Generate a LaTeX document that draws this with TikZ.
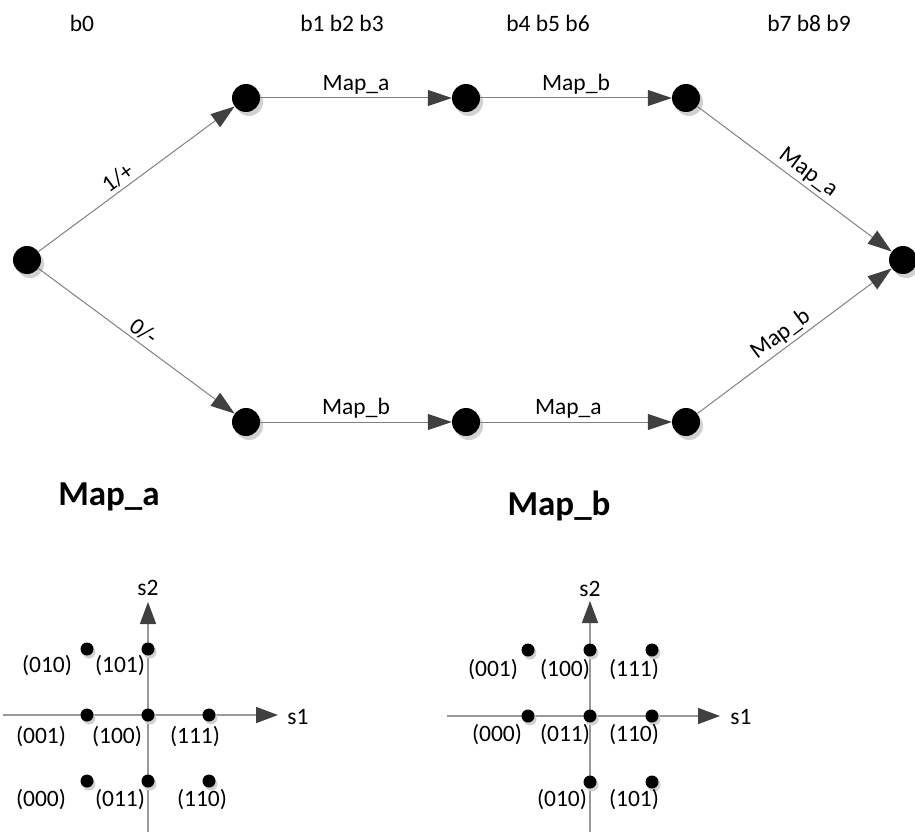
\documentclass[tikz,border=0pt]{standalone}
\usepackage{fontspec}
\setmainfont{Carlito}
\usepackage{tikz}
\usetikzlibrary{arrows.meta}
\usetikzlibrary{positioning}
\usetikzlibrary{shadows}

\begin{document}
\begin{tikzpicture}[x=1pt, y=-1pt,
    font=\fontsize{23.5}{28}\selectfont,
    state/.style={circle, fill=black, minimum size=28pt, inner sep=0pt,
        drop shadow={shadow xshift=3pt, shadow yshift=-4pt, fill=black!18, opacity=1}},
    dot/.style={circle, fill=black, minimum size=13pt, inner sep=0pt,
        drop shadow={shadow xshift=2pt, shadow yshift=-3pt, fill=black!18, opacity=1}},
    trans/.style={draw=black!50, line width=1pt,
        -{Triangle[length=24pt, width=16pt, color=black!75]}},
    axis/.style={draw=black!40, line width=1.6pt,
        -{Triangle[length=22pt, width=16pt, color=black!75]}},
    lbl/.style={inner sep=3pt},
    title/.style={font=\fontsize{35}{40}\selectfont\bfseries}]
\useasboundingbox (0,0) rectangle (915,832);

% stage labels
\node (b0)   at (  82, 23 ) {b0};
\node (b123) at ( 342, 23 ) {b1 b2 b3};
\node (b456) at ( 548, 23 ) {b4 b5 b6};
\node (b789) at ( 809, 23 ) {b7 b8 b9};

% trellis
\node[state] (E)  at ( 903, 260 ) {};
\node[state] (U3) at ( 686,  98 ) {}
    edge [trans] node[lbl, above, sloped, pos=0.53] {Map\_a} (E);
\node[state] (L3) at ( 686, 422 ) {}
    edge [trans] node[lbl, above, sloped, pos=0.47] {Map\_b} (E);
\node[state] (U2) at ( 466,  98 ) {}
    edge [trans] node[lbl, above, pos=0.5] {Map\_b} (U3);
\node[state] (L2) at ( 466, 422 ) {}
    edge [trans] node[lbl, above, pos=0.46] {Map\_a} (L3);
\node[state] (U1) at ( 246,  98 ) {}
    edge [trans] node[lbl, above, pos=0.5] {Map\_a} (U2);
\node[state] (L1) at ( 246, 422 ) {}
    edge [trans] node[lbl, above, pos=0.5] {Map\_b} (L2);
\node[state] (S)  at (  27, 260 ) {}
    edge [trans] node[lbl, above, sloped, pos=0.44] {1/+} (U1)
    edge [trans] node[lbl, above, sloped, pos=0.5] {0/-} (L1);

% mapping titles
\node[title] (ta) at ( 109, 497 ) {Map\_a};
\node[title] (tb) at ( 559, 506 ) {Map\_b};

% Map_a constellation
\coordinate (ax0) at (   3, 715 );
\coordinate (ay0) at ( 148, 832 );
\node (as1) at ( 298, 717 ) {s1};
\node (as2) at ( 148, 588 ) {s2};
\draw[axis] (ax0) -- (278,715);
\draw[axis] (ay0) -- (148,602);

\node[dot] (a010) at (  87, 649 ) {};
\node[dot] (a101) at ( 148, 649 ) {};
\node[dot] (a001) at (  87, 715 ) {};
\node[dot] (a100) at ( 148, 715 ) {};
\node[dot] (a111) at ( 209, 715 ) {};
\node[dot] (a000) at (  87, 781 ) {};
\node[dot] (a011) at ( 148, 781 ) {};
\node[dot] (a110) at ( 209, 781 ) {};

\node at (  47, 666 ) {(010)};
\node at ( 120, 666 ) {(101)};
\node at (  41, 737 ) {(001)};
\node at ( 117, 737 ) {(100)};
\node at ( 195, 737 ) {(111)};
\node at (  41, 800 ) {(000)};
\node at ( 120, 800 ) {(011)};
\node at ( 202, 800 ) {(110)};

% Map_b constellation
\coordinate (bx0) at ( 447, 716 );
\coordinate (by0) at ( 590, 832 );
\node (bs1) at ( 741, 717 ) {s1};
\node (bs2) at ( 590, 589 ) {s2};
\draw[axis] (bx0) -- (720,716);
\draw[axis] (by0) -- (590,601);

\node[dot] (b001) at ( 528, 650 ) {};
\node[dot] (b100) at ( 590, 650 ) {};
\node[dot] (b111) at ( 652, 650 ) {};
\node[dot] (b000) at ( 528, 716 ) {};
\node[dot] (b011) at ( 590, 716 ) {};
\node[dot] (b110) at ( 652, 716 ) {};
\node[dot] (b010) at ( 590, 782 ) {};
\node[dot] (b101) at ( 652, 782 ) {};

\node at ( 493, 670 ) {(001)};
\node at ( 565, 670 ) {(100)};
\node at ( 634, 670 ) {(111)};
\node at ( 497, 735 ) {(000)};
\node at ( 565, 735 ) {(011)};
\node at ( 634, 735 ) {(110)};
\node at ( 562, 800 ) {(010)};
\node at ( 634, 800 ) {(101)};
\end{tikzpicture}
\end{document}
